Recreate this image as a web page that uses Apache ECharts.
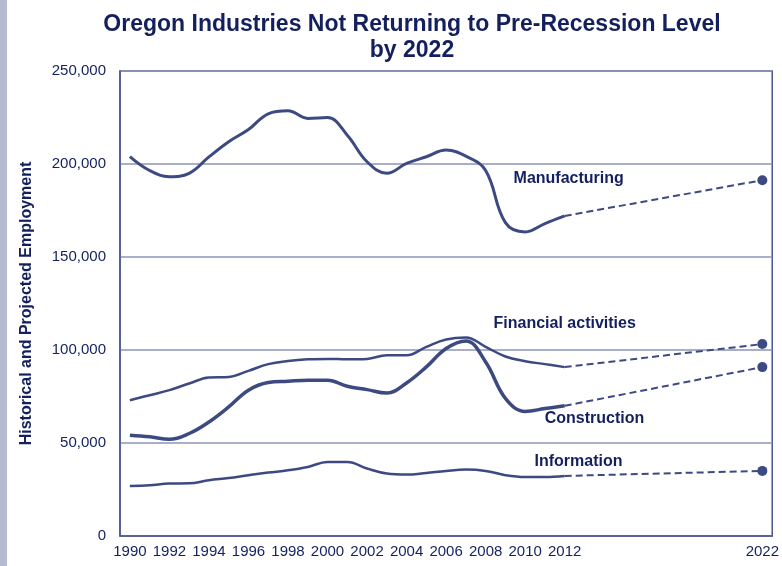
<!DOCTYPE html>
<html>
<head>
<meta charset="utf-8">
<title>Oregon Industries Not Returning to Pre-Recession Level by 2022</title>
<script src="https://cdn.jsdelivr.net/npm/echarts@6/dist/echarts.min.js"></script>
<style>
  html, body { margin: 0; padding: 0; background: #ffffff; }
  #strip { position: absolute; left: 0; top: 0; width: 7px; height: 566px; background: #b5bbd0; }
  #chart { position: absolute; left: 0; top: 0; width: 782px; height: 566px; }
</style>
</head>
<body>
<div id="chart"></div>
<div id="strip"></div>
<script>
// Years on the horizontal axis (1990 through 2022)
const years = [];
for (let y = 1990; y <= 2022; y++) years.push(String(y));

// Historical employment, 1990-2012
const manufacturing = [204000, 196500, 193200, 195000, 203800, 212000, 218500, 227000, 228600, 224500,
  225000, 215500, 201200, 195000, 200300, 203900, 207500, 204200, 196500, 168500, 163500, 168000, 172100];
const financial = [73000, 75700, 78400, 82000, 85200, 85500, 88800, 92400, 94100, 95000,
  95200, 95000, 95200, 97200, 97200, 101700, 105600, 106700, 101700, 96500, 94000, 92400, 90800];
const construction = [54200, 53300, 52000, 55100, 61300, 69400, 78400, 82500, 83200, 83800,
  83800, 80500, 78700, 76900, 82300, 90900, 100800, 104900, 93600, 74000, 67000, 68500, 70000];
const information = [26900, 27300, 28200, 28300, 30000, 31200, 32700, 34100, 35300, 37100,
  39800, 39800, 36300, 33600, 33000, 33900, 35000, 35700, 35000, 32700, 31700, 31700, 32300];

// Projected 2022 employment
const projected2022 = { manufacturing: 191300, financial: 103200, construction: 90800, information: 35000 };

const ink = '#3d4a82';
const textInk = '#14205e';
const gridInk = '#8c94ba';
const font = 'Liberation Sans';

function history(vals) {
  return years.map((y, i) => (i < vals.length ? vals[i] : null));
}
function projection(vals, target) {
  return years.map((y, i) => {
    if (i === vals.length - 1) return vals[vals.length - 1];
    if (y === '2022') return target;
    return null;
  });
}

function solid(name, vals, width) {
  return {
    name: name, type: 'line', data: history(vals), smooth: 0.4,
    showSymbol: false, symbol: 'none',
    lineStyle: { color: ink, width: width }, z: 3
  };
}
function dashed(name, vals, target) {
  return {
    name: name + ' projection', type: 'line', data: projection(vals, target), connectNulls: true,
    symbol: 'circle', symbolSize: (v, p) => (p.dataIndex === years.length - 1 ? 10 : 0),
    showAllSymbol: true,
    itemStyle: { color: ink },
    lineStyle: { color: ink, width: 2, type: [7, 4] }, z: 2
  };
}

const chart = echarts.init(document.getElementById('chart'));
chart.setOption({
  animation: false,
  backgroundColor: '#ffffff',
  title: {
    text: 'Oregon Industries Not Returning to Pre-Recession Level\nby 2022',
    left: 407, top: 7, textAlign: 'center',
    textStyle: { fontFamily: font, fontWeight: 'bold', fontSize: 23, color: textInk, lineHeight: 26 }
  },
  grid: { left: 120, right: 8, top: 71, bottom: 30, show: true, borderColor: '#4b5791', borderWidth: 1.5 },
  xAxis: {
    type: 'category', data: years, boundaryGap: true,
    axisLine: { lineStyle: { color: '#4b5791', width: 1.5 } },
    axisTick: { show: false },
    axisLabel: {
      interval: (i, v) => { const y = +v; return (y <= 2012 && y % 2 === 0) || y === 2022; },
      color: textInk, fontFamily: font, fontSize: 15, margin: 8
    }
  },
  yAxis: {
    type: 'value', min: 0, max: 250000, interval: 50000,
    name: 'Historical and Projected Employment', nameLocation: 'middle', nameGap: 85,
    nameTextStyle: { fontFamily: font, fontWeight: 'bold', fontSize: 16, color: textInk },
    axisLine: { show: true, lineStyle: { color: '#4b5791', width: 1.5 } },
    axisTick: { show: false },
    splitLine: { lineStyle: { color: gridInk, width: 1.5 } },
    axisLabel: {
      formatter: v => v.toLocaleString('en-US'),
      color: textInk, fontFamily: font, fontSize: 15, margin: 14
    }
  },
  series: [
    solid('Manufacturing', manufacturing, 3),
    solid('Financial activities', financial, 2.5),
    solid('Construction', construction, 3.5),
    solid('Information', information, 2.5),
    dashed('Manufacturing', manufacturing, projected2022.manufacturing),
    dashed('Financial activities', financial, projected2022.financial),
    dashed('Construction', construction, projected2022.construction),
    dashed('Information', information, projected2022.information)
  ]
});

// Series name labels anchored to data coordinates
const seriesLabels = [
  { text: 'Manufacturing', at: ['2012', 192000], dx: 4 },
  { text: 'Financial activities', at: ['2012', 114000], dx: 0 },
  { text: 'Construction', at: ['2013', 63300], dx: 10 },
  { text: 'Information', at: ['2013', 40200], dx: -6 }
];
chart.setOption({
  graphic: seriesLabels.map(l => {
    const p = chart.convertToPixel({ xAxisIndex: 0, yAxisIndex: 0 }, l.at);
    return {
      type: 'text', x: p[0] + l.dx, y: p[1], z: 10,
      style: {
        text: l.text, fill: textInk, align: 'center', verticalAlign: 'middle',
        font: 'bold 16px "Liberation Sans"'
      }
    };
  })
});
</script>
</body>
</html>
